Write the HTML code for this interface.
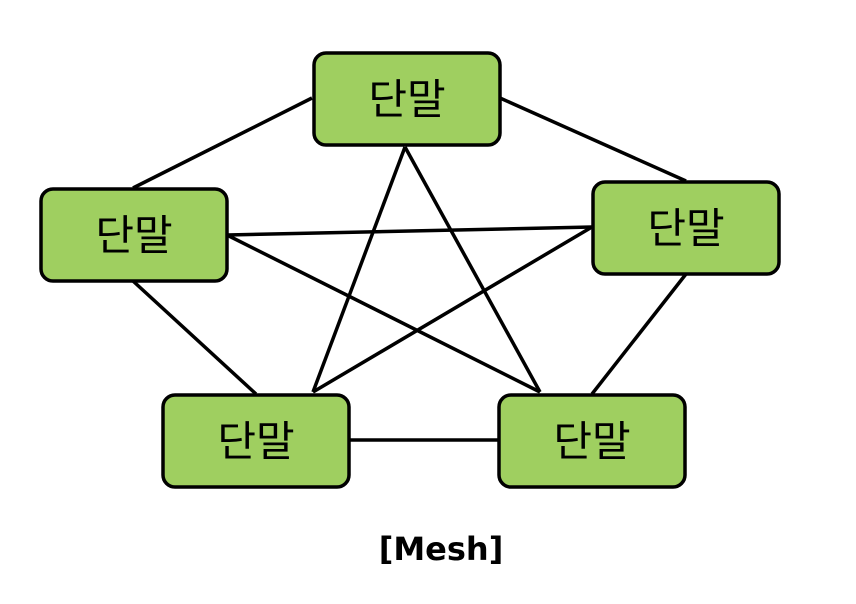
<!DOCTYPE html>
<html><head><meta charset="utf-8"><style>
html,body{margin:0;padding:0;background:#fff;width:856px;height:604px;overflow:hidden}
</style></head><body>
<svg width="856" height="604" xmlns="http://www.w3.org/2000/svg">
<g stroke="#000" stroke-width="3.5" fill="none">
<line x1="312" y1="98" x2="133" y2="188"/>
<line x1="500" y1="98" x2="686" y2="181"/>
<line x1="405" y1="147" x2="313" y2="392"/>
<line x1="405" y1="147" x2="540" y2="392"/>
<line x1="227" y1="235" x2="592" y2="227"/>
<line x1="227" y1="235" x2="540" y2="392"/>
<line x1="592" y1="227" x2="313" y2="392"/>
<line x1="133" y1="281" x2="256" y2="394"/>
<line x1="686" y1="274" x2="592" y2="394"/>
<line x1="350" y1="440" x2="498" y2="440"/>
</g>
<g fill="#9fcf60" stroke="#000" stroke-width="3.5">
<rect x="314" y="53" width="186" height="92" rx="12"/>
<rect x="41" y="189" width="186" height="92" rx="12"/>
<rect x="593" y="182" width="186" height="92" rx="12"/>
<rect x="163" y="395" width="186" height="92" rx="12"/>
<rect x="499" y="395" width="186" height="92" rx="12"/>
</g>
<g font-family="'Liberation Sans','Noto Sans CJK KR',sans-serif" font-size="42" text-anchor="middle" fill="#000">
<text x="407" y="114">단말</text>
<text x="134" y="250">단말</text>
<text x="686" y="243">단말</text>
<text x="256" y="456">단말</text>
<text x="592" y="456">단말</text>
</g>
<text x="441" y="560" font-family="'DejaVu Sans','Liberation Sans',sans-serif" font-weight="bold" font-size="32" text-anchor="middle">[Mesh]</text>
</svg>
</body></html>
